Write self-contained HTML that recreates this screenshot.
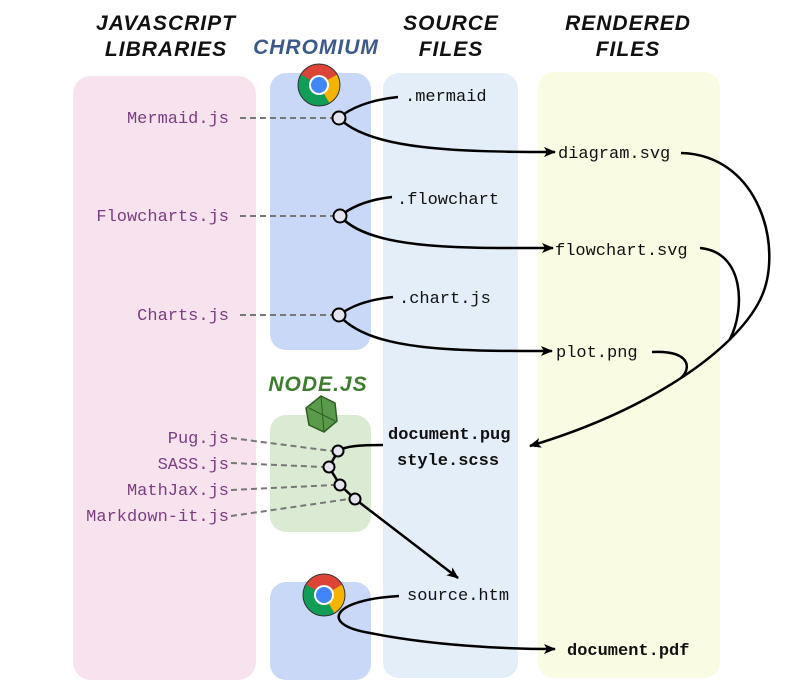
<!DOCTYPE html>
<html><head><meta charset="utf-8"><style>
html,body{margin:0;padding:0;background:#fff;width:799px;height:694px;overflow:hidden}
svg{display:block}
.h{font-family:"Liberation Sans",sans-serif;font-weight:bold;font-style:italic;font-size:21px;letter-spacing:1px}
.m{font-family:"Liberation Mono","DejaVu Sans Mono",monospace;font-size:17px}
</style></head><body>
<svg width="799" height="694" viewBox="0 0 799 694">
<defs><marker id="a" markerWidth="12" markerHeight="10" refX="11" refY="5" orient="auto" markerUnits="userSpaceOnUse"><path d="M0,0 L12,5 L0,10 L3,5z" fill="#000"/></marker></defs>
<rect x="73" y="76" width="183" height="604" rx="18" fill="#f8e2ee"/>
<rect x="270" y="73" width="101" height="277" rx="16" fill="#c8d8f6"/>
<rect x="270" y="415" width="101" height="117" rx="16" fill="#dbead3"/>
<rect x="270" y="582" width="101" height="98" rx="16" fill="#c8d8f6"/>
<rect x="383" y="73" width="135" height="605" rx="16" fill="#e3eef9"/>
<rect x="538" y="72" width="182" height="606" rx="16" fill="#fafbe3"/>
<g class="h" text-anchor="middle" fill="#111">
<text x="166" y="30">JAVASCRIPT</text><text x="166" y="56">LIBRARIES</text>
<text x="451" y="30">SOURCE</text><text x="451" y="56">FILES</text>
<text x="628" y="30">RENDERED</text><text x="628" y="56">FILES</text>
</g>
<text x="316" y="54" class="h" font-size="16" text-anchor="middle" fill="#3b5a8a">CHROMIUM</text>
<text x="318" y="391" class="h" font-size="15" text-anchor="middle" fill="#3a7d2c">NODE.JS</text>
<g transform="translate(319,85)">
<circle r="21" fill="#db4437"/><path d="M0,0 L-18.2,-10.5 A21,21 0 0,0 10.5,18.2z" fill="#0f9d58"/><path d="M0,0 L10.5,18.2 A21,21 0 0,0 18.2,-10.5z" fill="#f4b400"/>
<circle r="10" fill="#fff"/><circle r="8" fill="#4285f4"/><circle r="21" fill="none" stroke="#333" stroke-width="1"/></g>
<g transform="translate(324,595)">
<circle r="21" fill="#db4437"/><path d="M0,0 L-18.2,-10.5 A21,21 0 0,0 10.5,18.2z" fill="#0f9d58"/><path d="M0,0 L10.5,18.2 A21,21 0 0,0 18.2,-10.5z" fill="#f4b400"/>
<circle r="10" fill="#fff"/><circle r="8" fill="#4285f4"/><circle r="21" fill="none" stroke="#333" stroke-width="1"/></g>
<polygon points="321,396 335,403 337,421 324,432 309,425 306,408" fill="#5a9a4a" stroke="#2e5e25" stroke-width="1.5"/>
<path d="M309,408 L335,421 M321,396 L324,432" stroke="#2e5e25" stroke-width="1" fill="none"/>
<g class="m" fill="#7a3e7e" text-anchor="end">
<text x="229" y="123">Mermaid.js</text><text x="229" y="221">Flowcharts.js</text><text x="229" y="320">Charts.js</text>
<text x="229" y="443">Pug.js</text><text x="229" y="469">SASS.js</text><text x="229" y="495">MathJax.js</text><text x="229" y="521">Markdown-it.js</text>
</g>
<g class="m" fill="#111">
<text x="405" y="101">.mermaid</text><text x="397" y="204">.flowchart</text><text x="399" y="303">.chart.js</text>
<text x="407" y="600">source.htm</text>
<text x="558" y="158">diagram.svg</text><text x="555" y="255">flowchart.svg</text><text x="556" y="357">plot.png</text>
<text x="388" y="439" font-weight="bold">document.pug</text><text x="397" y="465" font-weight="bold">style.scss</text>
<text x="567" y="655" font-weight="bold">document.pdf</text>
</g>
<g stroke="#777" stroke-width="2" stroke-dasharray="6,4" fill="none">
<path d="M240,118 H333"/><path d="M240,216 H334"/><path d="M240,315 H333"/>
<path d="M231,438 L332,451"/><path d="M231,463 L323,467"/><path d="M231,490 L334,485"/><path d="M231,516 L349,499"/>
</g>
<g stroke="#000" stroke-width="2.5" fill="none">
<path d="M398,97 C370,100 350,108 339,118"/><path d="M339,118 C370,150 460,152 555,152" marker-end="url(#a)"/>
<path d="M392,197 C365,200 350,208 340,216"/><path d="M340,216 C370,250 460,248 553,248" marker-end="url(#a)"/>
<path d="M393,297 C365,300 350,307 339,315"/><path d="M339,315 C370,352 460,351 552,351" marker-end="url(#a)"/>
<path d="M681,153 C760,155 785,250 760,300 C735,350 650,410 530,446" marker-end="url(#a)"/>
<path d="M700,248 C745,252 745,310 730,339"/>
<path d="M652,352 C690,350 692,368 681,378"/>
<path d="M383,445 C360,445 345,446 338,451 L329,467 L340,485 L355,499 L458,578" marker-end="url(#a)"/>
<path d="M399,596 C330,600 320,625 370,633 C430,645 500,649 555,649" marker-end="url(#a)"/>
</g>
<g fill="#e4e4ef" stroke="#000" stroke-width="2">
<circle cx="339" cy="118" r="6.5"/><circle cx="340" cy="216" r="6.5"/><circle cx="339" cy="315" r="6.5"/>
<circle cx="338" cy="451" r="5.5"/><circle cx="329" cy="467" r="5.5"/><circle cx="340" cy="485" r="5.5"/><circle cx="355" cy="499" r="5.5"/>
</g>
</svg>
</body></html>
